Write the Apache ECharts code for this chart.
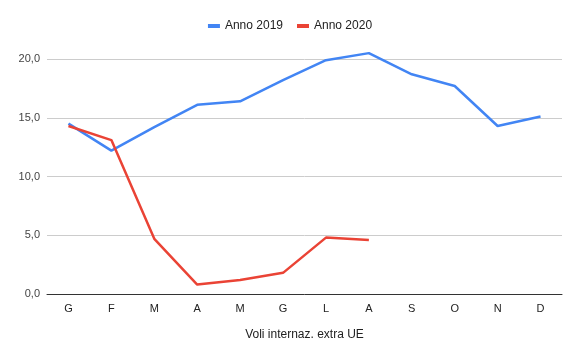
<!DOCTYPE html>
<html><head><meta charset="utf-8">
<script src="https://cdn.jsdelivr.net/npm/echarts@6/dist/echarts.min.js"></script>
<style>html,body{margin:0;padding:0;background:#fff}#c{width:580px;height:359px}</style>
</head><body><div id="c"></div>
<script>
const categories = ['G','F','M','A','M','G','L','A','S','O','N','D'];
const seriesNames = ['Anno 2019','Anno 2020'];
const values2019 = [14.5, 12.2, 14.2, 16.1, 16.4, 18.2, 19.9, 20.5, 18.7, 17.7, 14.3, 15.1];
const values2020 = [14.3, 13.1, 4.7, 0.8, 1.2, 1.8, 4.8, 4.6];
const yTicks = [0, 5, 10, 15, 20];
const xAxisTitle = 'Voli internaz. extra UE';

const chart = echarts.init(document.getElementById('c'), null, {renderer:'canvas'});
const font = 'Arial, "Liberation Sans", sans-serif';
chart.setOption({
  animation:false,
  color:['#4285F4','#EA4335'],
  legend:{
    top:15, left:'center',
    icon:'rect', itemWidth:12, itemHeight:4, itemGap:14,
    textStyle:{fontFamily:font, fontSize:12, color:'#222'},
    data:seriesNames
  },
  grid:{left:47, right:18, top:59, bottom:65},
  xAxis:{
    type:'category', data:categories, boundaryGap:true,
    axisLine:{lineStyle:{color:'#333', width:1}},
    axisTick:{show:false},
    axisLabel:{fontFamily:font, fontSize:11, color:'#222', margin:9},
    name:xAxisTitle, nameLocation:'middle', nameGap:35,
    nameTextStyle:{fontFamily:font, fontSize:12, color:'#222'}
  },
  yAxis:{
    type:'value', min:yTicks[0], max:yTicks[yTicks.length-1], interval:5,
    axisLine:{show:false}, axisTick:{show:false},
    splitLine:{lineStyle:{color:'#ccc', width:1}},
    axisLabel:{fontFamily:font, fontSize:11, color:'#444', margin:7,
      formatter:v=>v.toFixed(1).replace('.',',')}
  },
  series:[
    {name:seriesNames[0], type:'line', data:values2019, symbol:'none', clip:false,
     lineStyle:{width:2.5}},
    {name:seriesNames[1], type:'line', data:values2020, symbol:'none', clip:false,
     lineStyle:{width:2.5}}
  ]
});
</script></body></html>
